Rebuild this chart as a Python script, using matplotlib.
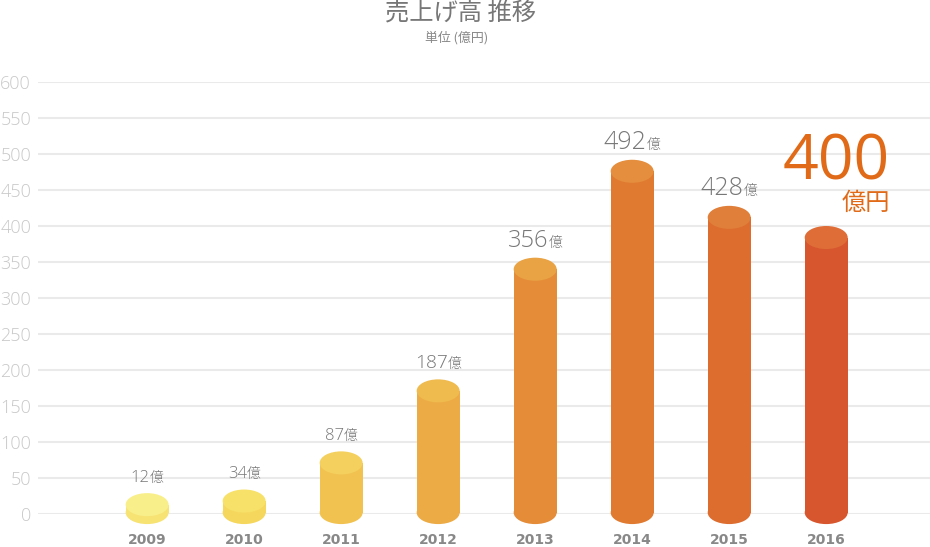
import matplotlib
matplotlib.use('Agg')
import matplotlib.pyplot as plt
from matplotlib.patches import Ellipse, Rectangle

plt.rcParams['font.family'] = ['Open Sans', 'Noto Sans CJK JP', 'DejaVu Sans']

# data
years = ['2009', '2010', '2011', '2012', '2013', '2014', '2015', '2016']
sales = [12, 34, 87, 187, 356, 492, 428, 400]
yticks = [0, 50, 100, 150, 200, 250, 300, 350, 400, 450, 500, 550, 600]

# styles
side_colors = ['#f7e373', '#f5d75d', '#f1c250', '#ecab45', '#e48c38', '#e07a30', '#dd6c2f', '#d8562d']
top_colors = ['#f9ef8a', '#f7e169', '#f4d05e', '#efba4e', '#e9a345', '#e48e3e', '#e07f3a', '#df6d38']
label_sizes = [12, 12, 12, 13.8, 17, 18, 18]

fig = plt.figure(figsize=(9.3, 5.47), dpi=100)
ax = fig.add_axes([38 / 930, 33 / 547, 1 - 38 / 930, 432 / 547])
ax.set_xlim(-1.125, 8.07)
ax.set_ylim(0, 600)
for s in ax.spines.values():
    s.set_visible(False)
ax.set_yticks(yticks)
ax.set_yticklabels([str(t) for t in yticks], fontsize=13, color='#c8c8c8', fontweight='light')
ax.tick_params(axis='y', length=0, pad=5)
ax.set_xticks(range(len(years)))
ax.set_xticklabels(years, fontsize=10, fontweight='bold', color='#888888', family='DejaVu Sans')
ax.tick_params(axis='x', length=0, pad=14)
ax.grid(axis='y', color='#eaeaea', lw=1.5)
ax.set_axisbelow(True)

# cylinders
w = 0.443
ry = 16
base = 2
tops = []
for i, v in enumerate(sales):
    top = max(v - ry, base + 11)
    tops.append(top + ry)
    ax.add_patch(Ellipse((i, base), w, 2 * ry, color=side_colors[i], zorder=2, clip_on=False, lw=0))
    ax.add_patch(Rectangle((i - w / 2, base), w, top - base, color=side_colors[i], zorder=2, clip_on=False, lw=0))
    ax.add_patch(Ellipse((i, top), w, 2 * ry, color=top_colors[i], zorder=3, clip_on=False, lw=0))

# value labels (number + 億), centered over each bar
labels = []
for i, v in enumerate(sales[:-1]):
    t1 = ax.annotate(str(v), (i, tops[i]), xytext=(0, 8), textcoords='offset points',
                     ha='left', va='baseline', fontsize=label_sizes[i], color='#777777',
                     fontweight='light')
    t2 = ax.annotate('億', (i, tops[i]), xytext=(0, 8), textcoords='offset points',
                     ha='left', va='baseline', fontsize=10, color='#777777',
                     family=['Noto Sans CJK JP'], fontweight='light')
    labels.append((t1, t2))

fig.canvas.draw()
r = fig.canvas.get_renderer()
k = 72 / fig.dpi
for t1, t2 in labels:
    w1 = t1.get_window_extent(r).width * k
    w2 = t2.get_window_extent(r).width * k
    start = -(w1 + w2) / 2
    t1.set_position((start, 8))
    t2.set_position((start + w1, 8))

# highlight for latest year
fig.text(890 / 930, 1 - 180 / 547, str(sales[-1]), ha='right', va='baseline', fontsize=45, color='#e06a17')
fig.text(890 / 930, 1 - 210 / 547, '億円', ha='right', va='baseline', fontsize=17.5, color='#e06a17',
         family=['Noto Sans CJK JP'])

# titles
fig.text(460 / 930, 1 - 14 / 547, '売上げ高 推移', ha='center', va='center', fontsize=17.5, color='#777777',
         family=['Noto Sans CJK JP'])
fig.text(457 / 930, 1 - 37.5 / 547, '単位 (億円)', ha='center', va='center', fontsize=9.3, color='#888888',
         family=['Noto Sans CJK JP'])

fig.savefig('out.png', dpi=100)
